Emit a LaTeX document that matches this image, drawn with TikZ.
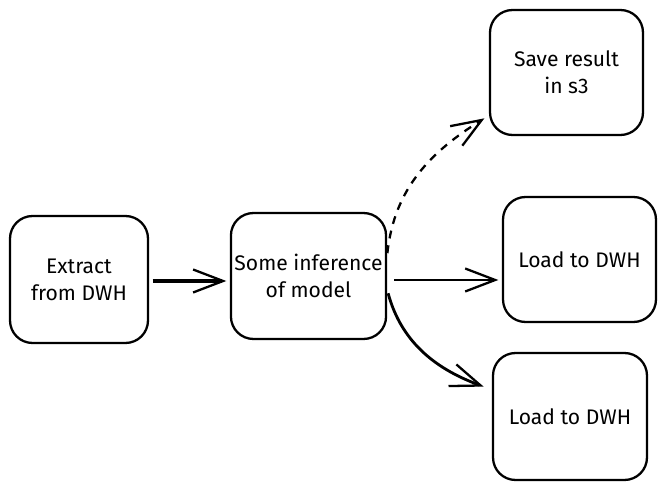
\documentclass[tikz,border=0pt]{standalone}
\usepackage{fontspec}
\setmainfont{Fira Sans}
\usetikzlibrary{arrows.meta,positioning}
\begin{document}
\begin{tikzpicture}[
    x=0.02cm, y=-0.02cm,
    box/.style={draw, line width=1.3pt, rounded corners=0.45cm, align=center, inner sep=2pt,
      font=\fontsize{12}{15.3}\selectfont},
    flow/.style={line width=1.3pt, -{Straight Barb[length=6mm, width=4.6mm, line width=1.3pt]}},
  ]
    \useasboundingbox (0,0) rectangle (666,489);
    % Source
    \node[box, minimum width=2.76cm, minimum height=2.54cm] (extract) at (79,279.5) {Extract\\from DWH};
    % Model
    \node[box, minimum width=3.06cm, minimum height=2.52cm] (infer) at (308.5,276) {Some inference\\of model};
    % Outputs
    \node[box, minimum width=3.06cm, minimum height=2.5cm] (save) at (566.5,72.5) {Save result\\in s3};
    \node[box, minimum width=3.06cm, minimum height=2.5cm] (load1) at (579.5,259.5) {Load to DWH};
    \node[box, minimum width=3.08cm, minimum height=2.54cm] (load2) at (570,416.5) {Load to DWH};

    % Edges
    \draw[flow, line width=2pt, shorten <=2pt, shorten >=2pt] ([yshift=-0.03cm]extract.east) -- ([yshift=-0.03cm]extract.east -| infer.west);
    \draw[flow, dashed, dash pattern=on 4.5pt off 4pt, shorten <=1pt, shorten >=3pt] (infer.15) to[out=84, in=212] (save.209);
    \draw[flow, shorten <=4pt, shorten >=2pt] ([yshift=-0.08cm]infer.east) -- ([yshift=-0.08cm]infer.east -| load1.west);
    \draw[flow, line width=1.6pt, shorten <=2pt, shorten >=5pt] (infer.-10) to[out=-75, in=160] (load2.161);
  \end{tikzpicture}
\end{document}
